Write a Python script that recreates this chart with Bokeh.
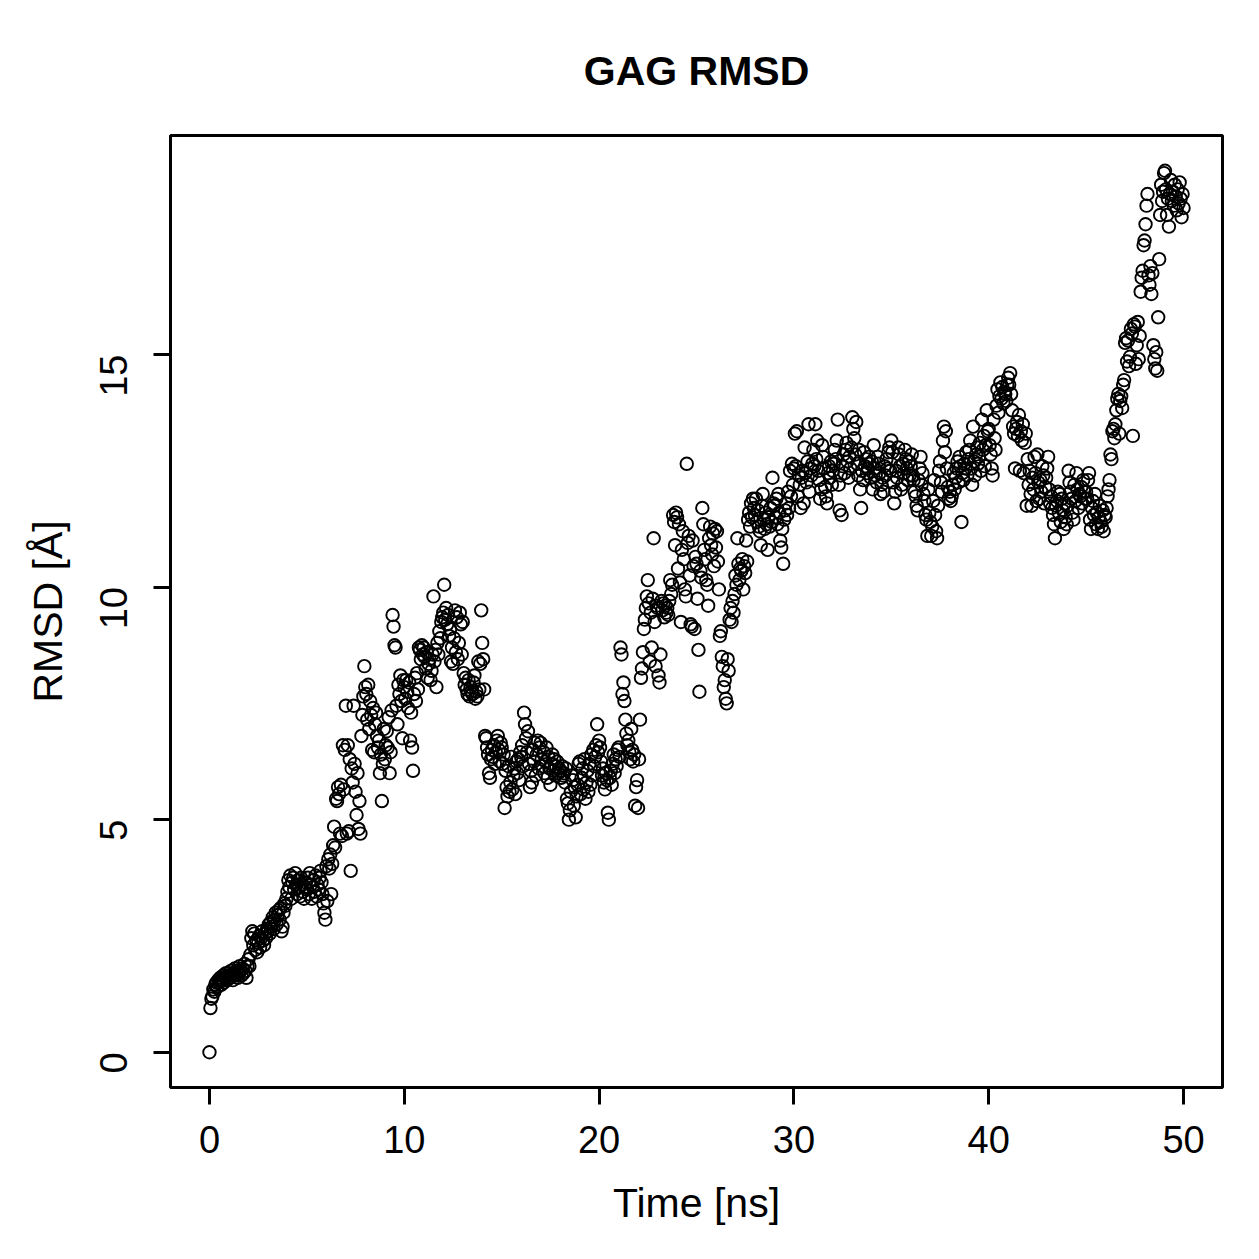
import math
from bokeh.plotting import figure
from bokeh.models import Range1d, FixedTicker
from bokeh.embed import file_html
from bokeh.resources import INLINE

# RMSD values (Angstrom), one sample every 0.05 ns
rmsd_angstrom = [
    # 0 ns
    0.00, 0.95, 1.15, 1.20, 1.35, 1.30, 1.45, 1.50, 1.40, 1.55, 1.50, 1.60, 1.45, 1.55, 1.65, 1.50, 1.60, 1.70, 1.55, 1.65,
    # 1 ns
    1.70, 1.60, 1.75, 1.65, 1.55, 1.70, 1.80, 1.65, 1.75, 1.60, 1.70, 1.85, 1.75, 1.65, 1.80, 1.70, 1.90, 1.75, 1.60, 1.85,
    # 2 ns
    2.00, 1.85, 2.10, 2.45, 2.60, 2.30, 2.55, 2.20, 2.40, 2.15, 2.35, 2.50, 2.25, 2.45, 2.60, 2.40, 2.30, 2.55, 2.45, 2.65,
    # 3 ns
    2.60, 2.75, 2.55, 2.80, 2.70, 2.90, 2.65, 2.85, 3.00, 2.75, 2.95, 3.05, 2.85, 3.10, 2.60, 2.70, 3.00, 3.20, 3.15, 3.30,
    # 4 ns
    3.45, 3.70, 3.55, 3.80, 3.30, 3.65, 3.75, 3.50, 3.85, 3.60, 3.40, 3.70, 3.55, 3.35, 3.75, 3.60, 3.45, 3.30, 3.55, 3.65,
    # 5 ns
    3.50, 3.75, 3.40, 3.85, 3.60, 3.30, 3.55, 3.70, 3.45, 3.80, 3.35, 3.60, 3.50, 3.75, 3.90, 3.65, 3.40, 3.20, 3.00, 2.85,
    # 6 ns
    4.00, 3.25, 4.15, 3.95, 4.25, 3.40, 4.05, 4.45, 4.85, 4.40, 5.45, 5.40, 5.70, 5.55, 4.70, 5.75, 4.65, 6.60, 5.65, 6.50,
    # 7 ns
    7.45, 4.70, 6.60, 4.75, 6.30, 3.90, 6.10, 5.80, 7.45, 6.20, 5.60, 5.10, 6.00, 4.80, 5.40, 4.70, 6.80, 7.25, 7.65, 8.30,
    # 8 ns
    7.85, 7.70, 7.15, 7.90, 6.95, 7.55, 7.25, 6.50, 7.40, 6.45, 7.05, 7.30, 6.80, 6.55, 6.70, 6.00, 6.40, 5.40, 6.20, 6.95,
    # 9 ns
    6.30, 6.60, 6.90, 6.55, 7.20, 6.00, 6.45, 7.35, 9.40, 9.15, 8.75, 8.70, 7.45, 7.05, 7.90, 7.70, 8.10, 7.55, 6.75, 8.00,
    # 10 ns
    7.85, 7.60, 8.00, 7.75, 7.40, 7.95, 6.70, 7.30, 6.55, 6.05, 7.70, 8.05, 7.55, 8.15, 7.80, 8.70, 8.65, 8.45, 8.75, 8.55,
    # 11 ns
    8.70, 8.50, 8.25, 8.60, 8.05, 8.35, 8.45, 8.00, 8.20, 8.55, 9.80, 8.40, 8.65, 7.85, 8.80, 8.55, 9.05, 8.90, 9.25, 9.35,
    # 12 ns
    9.45, 10.05, 9.30, 9.55, 9.20, 9.40, 8.95, 9.10, 8.40, 8.70, 8.35, 8.90, 9.50, 8.60, 9.35, 8.45, 8.80, 9.45, 9.20, 8.55,
    # 13 ns
    9.25, 8.15, 7.90, 8.05, 7.80, 7.70, 8.00, 7.65, 7.85, 7.75, 7.70, 7.95, 8.10, 7.60, 7.75, 7.65, 8.40, 7.80, 8.35, 9.50,
    # 14 ns
    8.80, 8.45, 7.80, 6.80, 6.75, 6.55, 6.40, 6.00, 5.90, 6.30, 6.50, 6.35, 6.60, 6.20, 6.45, 6.70, 6.80, 6.50, 6.25, 6.65,
    # 15 ns
    6.55, 6.20, 6.40, 5.25, 6.05, 5.70, 5.50, 6.15, 5.60, 5.80, 6.35, 5.65, 5.95, 6.10, 5.55, 6.25, 6.00, 6.30, 5.85, 6.45,
    # 16 ns
    6.35, 6.60, 6.15, 7.30, 7.05, 6.75, 6.45, 6.90, 6.20, 5.70, 6.05, 5.80, 6.50, 6.25, 6.65, 5.95, 6.40, 6.70, 6.10, 6.55,
    # 17 ns
    6.65, 6.30, 6.15, 6.45, 6.00, 6.25, 6.55, 5.90, 6.35, 6.10, 5.75, 6.20, 6.40, 6.05, 6.30, 5.95, 6.15, 6.25, 6.00, 6.10,
    # 18 ns
    6.05, 5.90, 6.15, 5.95, 6.00, 5.80, 6.10, 5.45, 5.35, 5.00, 5.20, 5.60, 5.95, 5.85, 5.30, 5.70, 5.05, 5.50, 5.75, 6.20,
    # 19 ns
    6.25, 5.55, 5.90, 6.10, 5.65, 6.30, 5.45, 5.80, 6.05, 5.60, 6.20, 5.75, 6.40, 5.95, 6.50, 6.15, 6.35, 6.60, 7.05, 6.45,
    # 20 ns
    6.70, 6.55, 6.25, 5.95, 6.10, 5.80, 5.65, 6.00, 5.85, 5.15, 5.00, 5.90, 6.05, 5.75, 6.20, 6.40, 6.00, 6.30, 6.15, 6.50,
    # 21 ns
    6.55, 6.35, 8.70, 8.55, 7.70, 7.95, 7.55, 7.15, 6.85, 6.60, 6.70, 6.45, 6.30, 6.95, 6.50, 6.25, 6.40, 5.30, 5.70, 5.85,
    # 22 ns
    5.25, 6.30, 7.15, 8.05, 8.25, 8.60, 9.10, 9.30, 9.55, 9.80, 10.15, 9.65, 8.40, 9.45, 8.70, 9.75, 11.05, 9.25, 8.30, 9.60,
    # 23 ns
    9.55, 8.10, 7.95, 8.55, 9.70, 9.50, 9.65, 9.35, 9.60, 9.45, 9.55, 9.40, 9.70, 10.15, 9.85, 10.05, 11.55, 11.40, 10.90, 11.60,
    # 24 ns
    11.50, 10.40, 11.35, 10.10, 9.25, 10.80, 11.20, 10.60, 9.95, 9.80, 12.65, 10.95, 11.10, 10.25, 9.20, 9.15, 11.00, 10.45, 9.10, 10.65,
    # 25 ns
    10.50, 9.75, 8.65, 7.75, 10.35, 10.20, 11.70, 11.35, 10.80, 10.60, 10.15, 10.05, 9.60, 11.05, 11.30, 10.90, 10.70, 11.15, 10.45, 11.25,
    # 26 ns
    10.85, 11.20, 10.55, 9.95, 8.95, 9.05, 8.50, 8.30, 7.85, 8.00, 7.60, 7.50, 8.45, 8.20, 9.30, 9.55, 9.25, 9.70, 9.45, 9.85,
    # 27 ns
    10.25, 10.05, 11.05, 10.50, 10.15, 10.40, 10.35, 10.60, 9.95, 10.45, 10.30, 11.00, 10.55, 11.45, 11.60, 11.30, 11.80, 11.50, 11.90, 11.70,
    # 28 ns
    11.55, 11.90, 11.40, 11.65, 11.30, 11.20, 10.90, 11.75, 12.00, 11.45, 11.25, 11.60, 11.35, 10.80, 11.50, 11.30, 11.70, 11.40, 12.35, 11.80,
    # 29 ns
    11.75, 11.50, 11.90, 11.35, 12.00, 11.60, 11.00, 10.85, 11.25, 10.50, 11.45, 11.65, 11.80, 11.55, 12.05, 11.70, 12.50, 11.95, 12.65, 12.20,
    # 30 ns
    12.55, 13.30, 12.60, 13.35, 11.95, 12.40, 12.20, 11.70, 12.35, 12.50, 11.80, 13.00, 12.45, 12.25, 12.70, 13.50, 12.05, 12.55, 12.40, 12.65,
    # 31 ns
    12.95, 12.60, 13.50, 12.75, 13.15, 12.50, 12.30, 11.90, 12.10, 13.05, 12.80, 12.55, 12.15, 11.95, 11.80, 12.45, 12.60, 12.35, 12.70, 12.20,
    # 32 ns
    12.50, 12.65, 12.95, 12.75, 13.15, 13.60, 12.20, 11.65, 12.40, 11.55, 12.60, 12.85, 12.45, 12.95, 13.10, 12.70, 12.35, 12.80, 12.55, 13.00,
    # 33 ns
    13.65, 13.40, 13.20, 12.85, 13.55, 12.65, 12.40, 12.95, 12.10, 11.70, 12.50, 12.30, 12.90, 12.60, 12.75, 12.45, 12.55, 12.80, 12.65, 12.35,
    # 34 ns
    12.70, 12.10, 13.05, 12.55, 12.40, 12.25, 12.80, 12.65, 12.45, 12.00, 12.20, 12.35, 12.05, 12.60, 12.40, 12.75, 12.55, 12.90, 13.00, 12.50,
    # 35 ns
    13.15, 12.90, 12.25, 11.80, 12.05, 12.50, 12.35, 13.00, 12.85, 12.60, 12.10, 12.20, 12.65, 12.45, 12.95, 12.75, 12.55, 12.30, 12.70, 12.40,
    # 36 ns
    12.60, 12.85, 12.40, 12.30, 12.05, 11.95, 11.75, 11.65, 12.30, 12.55, 12.80, 12.20, 12.45, 12.00, 11.85, 11.55, 11.45, 11.10, 12.10, 11.60,
    # 37 ns
    11.40, 11.10, 11.30, 11.85, 12.30, 11.55, 11.20, 11.05, 11.75, 12.50, 12.70, 12.25, 12.05, 13.15, 13.45, 12.90, 13.35, 12.55, 12.15, 11.90,
    # 38 ns
    12.05, 11.85, 11.95, 12.20, 12.45, 12.10, 12.35, 12.55, 12.70, 12.25, 12.80, 12.60, 11.40, 12.45, 12.30, 12.65, 12.55, 12.90, 12.40, 12.75,
    # 39 ns
    12.95, 13.15, 12.55, 12.20, 13.45, 12.70, 12.40, 12.85, 13.00, 12.65, 12.80, 13.10, 12.50, 13.60, 12.95, 13.25, 12.60, 13.05, 13.80, 13.35,
    # 40 ns
    13.40, 13.05, 12.85, 12.55, 12.40, 13.60, 13.20, 12.95, 13.90, 14.25, 13.75, 14.10, 14.40, 14.05, 14.30, 13.95, 14.20, 14.15, 14.00, 14.35,
    # 41 ns
    14.50, 14.35, 14.60, 14.15, 13.80, 13.45, 13.30, 12.55, 13.40, 13.55, 13.25, 13.70, 12.50, 13.35, 13.15, 13.50, 12.45, 13.10, 13.30, 11.75,
    # 42 ns
    12.75, 12.20, 12.50, 12.00, 11.75, 12.35, 12.10, 12.80, 12.45, 11.85, 12.85, 12.25, 11.90, 12.30, 12.05, 12.60, 12.40, 11.80, 12.15, 12.35,
    # 43 ns
    12.55, 12.80, 12.10, 11.80, 11.95, 11.70, 11.55, 11.35, 11.05, 11.75, 11.85, 12.05, 11.60, 12.00, 11.40, 11.90, 11.65, 11.25, 11.80, 11.50,
    # 44 ns
    11.35, 11.75, 12.50, 12.25, 12.05, 11.90, 11.60, 11.45, 12.20, 11.85, 12.45, 12.10, 11.70, 12.00, 11.95, 12.15, 11.80, 12.30, 12.05, 11.90,
    # 45 ns
    12.05, 11.90, 12.30, 12.45, 11.45, 11.25, 11.70, 11.85, 11.55, 12.00, 11.35, 11.60, 11.25, 11.50, 11.75, 11.40, 11.30, 11.65, 11.20, 11.55,
    # 46 ns
    11.50, 11.70, 11.95, 12.10, 12.30, 12.85, 12.75, 13.35, 13.40, 13.20, 13.50, 13.80, 14.05, 14.15, 13.30, 14.00, 14.10, 13.85, 14.35, 14.45,
    # 47 ns
    15.25, 15.35, 14.85, 15.30, 14.75, 14.95, 15.55, 15.45, 13.25, 15.65, 15.60, 14.80, 15.20, 15.70, 14.90, 15.40, 16.35, 16.65, 16.80, 17.35,
    # 48 ns
    17.45, 17.80, 18.20, 18.45, 16.70, 16.50, 16.90, 16.30, 16.75, 15.20, 14.90, 14.70, 15.05, 14.65, 15.80, 17.05, 18.00, 18.65, 18.30, 18.50,
    # 49 ns
    18.90, 18.95, 18.55, 18.00, 18.35, 17.75, 18.45, 18.75, 18.30, 18.50, 18.20, 18.65, 18.40, 18.10, 18.55, 18.25, 18.70, 18.35, 17.95, 18.45,
    # 50 ns
    18.15,
]

time_step_ns = 0.05
time_ns = [round(i * time_step_ns, 2) for i in range(len(rmsd_angstrom))]

x_ticks = [0, 10, 20, 30, 40, 50]
y_ticks = [0, 5, 10, 15]

title_text = "GAG RMSD"
x_label = "Time [ns]"
y_label = "RMSD [Å]"

# R-style 4% axis extension
x_min, x_max = min(time_ns), max(time_ns)
y_min, y_max = min(rmsd_angstrom), max(rmsd_angstrom)
x_pad = 0.04 * (x_max - x_min)
y_pad = 0.04 * (y_max - y_min)

FONT = "Liberation Sans"

p = figure(
    width=1259, height=1259,
    x_range=Range1d(x_min - x_pad, x_max + x_pad),
    y_range=Range1d(y_min - y_pad, y_max + y_pad),
    output_backend="svg", toolbar_location=None,
    min_border_left=170, min_border_right=37,
    min_border_top=135, min_border_bottom=172,
    background_fill_color="white", border_fill_color="white",
)

p.title.text = title_text
p.title.align = "center"
p.title.text_font = FONT
p.title.text_font_style = "bold"
p.title.text_font_size = "41px"
p.title.text_color = "black"
p.title.standoff = 84

p.outline_line_color = "black"
p.outline_line_width = 3
p.grid.visible = False

for ax in (p.xaxis[0], p.yaxis[0]):
    ax.axis_line_color = None
    ax.major_tick_line_color = "black"
    ax.major_tick_line_width = 3
    ax.major_tick_out = 17
    ax.major_tick_in = 0
    ax.minor_tick_line_color = None
    ax.major_label_text_font = FONT
    ax.major_label_text_font_size = "38px"
    ax.major_label_text_color = "black"
    ax.axis_label_text_font = FONT
    ax.axis_label_text_font_size = "41px"
    ax.axis_label_text_font_style = "normal"
    ax.axis_label_text_color = "black"

p.xaxis[0].ticker = FixedTicker(ticks=x_ticks)
p.yaxis[0].ticker = FixedTicker(ticks=y_ticks)
p.xaxis[0].axis_label = x_label
p.yaxis[0].axis_label = y_label
p.xaxis[0].major_label_standoff = 21
p.yaxis[0].major_label_standoff = 40
p.yaxis[0].major_label_orientation = math.pi / 2
p.xaxis[0].axis_label_standoff = 24
p.yaxis[0].axis_label_standoff = 13

p.scatter(time_ns, rmsd_angstrom, marker="circle", size=12.5,
          fill_color=None, line_color="black", line_width=1.9)

open("out.html", "w").write(file_html(p, INLINE))
